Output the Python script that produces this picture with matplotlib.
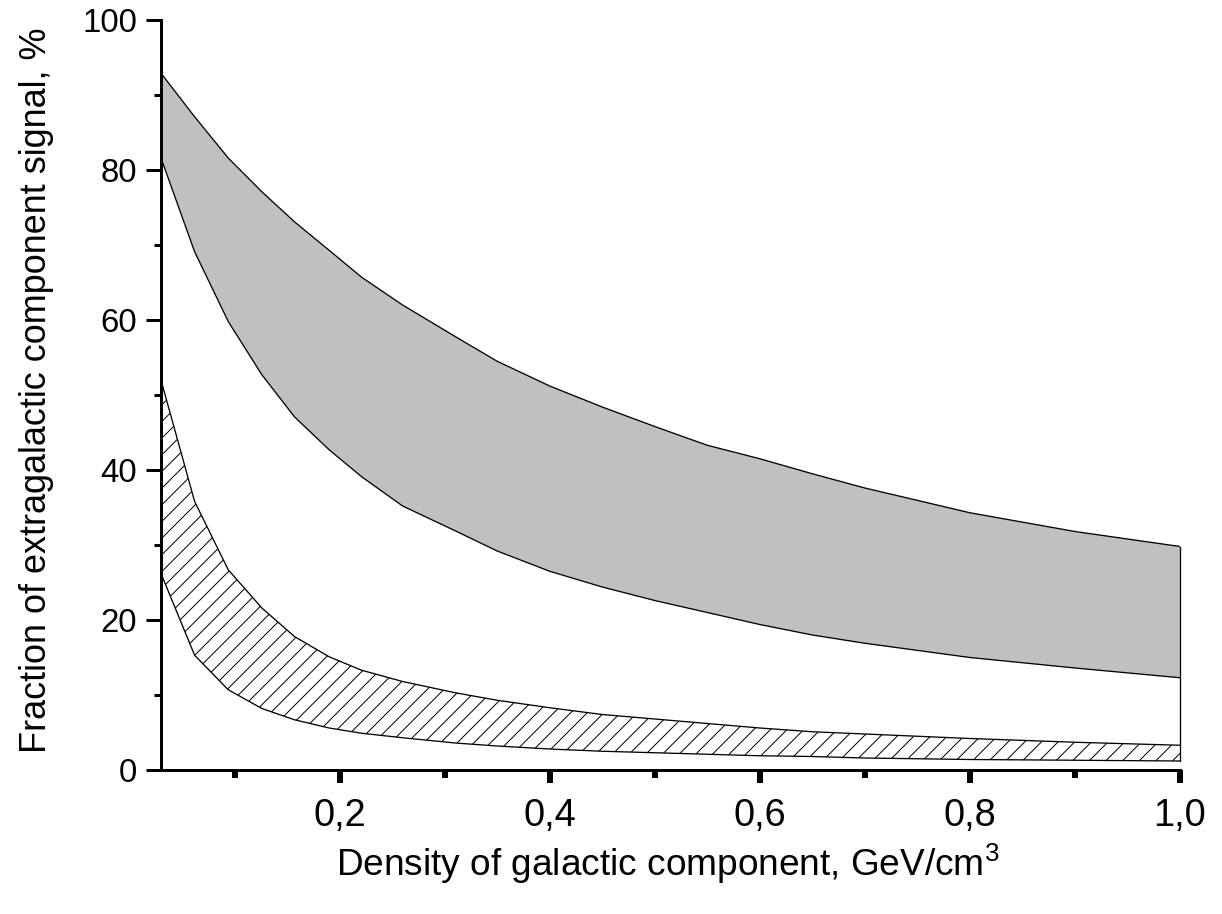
#!/usr/bin/env python3
"""
Fraction of extragalactic signal vs density of galactic component
"""

import matplotlib
matplotlib.use('Agg')
import matplotlib.pyplot as plt
from matplotlib.ticker import MultipleLocator, FuncFormatter

# Data
density = [0.03, 0.062, 0.094, 0.126, 0.157, 0.19, 0.221, 0.26, 0.31, 0.35,
           0.40, 0.45, 0.50, 0.55, 0.60, 0.65, 0.70, 0.80, 0.90, 1.0]
gray_upper = [92.9, 87.1, 81.6, 77.1, 73.1, 69.3, 65.7, 62.0, 57.8, 54.5,
              51.2, 48.4, 45.8, 43.3, 41.5, 39.5, 37.6, 34.3, 31.8, 29.8]
gray_lower = [81.6, 69.1, 59.8, 52.7, 47.1, 42.7, 39.1, 35.2, 31.9, 29.2,
              26.5, 24.4, 22.6, 21.0, 19.4, 18.0, 16.9, 15.0, 13.6, 12.3]
hatch_upper = [52.0, 35.8, 26.7, 21.6, 17.8, 15.1, 13.3, 11.8, 10.3, 9.3,
               8.3, 7.4, 6.8, 6.2, 5.6, 5.1, 4.8, 4.2, 3.7, 3.3]
hatch_lower = [26.2, 15.3, 10.7, 8.2, 6.7, 5.6, 4.9, 4.3, 3.6, 3.2,
               2.8, 2.5, 2.3, 2.1, 1.9, 1.8, 1.6, 1.4, 1.3, 1.2]

DPI = 150
PX = 72.0 / DPI  # points per pixel

plt.rcParams['font.family'] = ['Liberation Sans', 'DejaVu Sans']
plt.rcParams['mathtext.default'] = 'regular'
plt.rcParams['hatch.linewidth'] = 1.0 * PX


def main():
    fig = plt.figure(figsize=(1222 / DPI, 914 / DPI), dpi=DPI)
    ax = fig.add_axes([161 / 1222, 1 - 770 / 914, (1180 - 161) / 1222, (770 - 20) / 914])

    ax.fill_between(density, gray_lower, gray_upper, facecolor='#c0c0c0',
                    edgecolor='none', zorder=1)
    ax.fill_between(density, hatch_lower, hatch_upper, facecolor='white',
                    edgecolor='black', hatch='///', linewidth=0, zorder=1)
    for curve in (gray_upper, gray_lower, hatch_upper, hatch_lower):
        ax.plot(density, curve, color='black', lw=1.3 * PX, zorder=2)
    ax.plot([density[-1], density[-1]], [hatch_lower[-1], gray_upper[-1]],
            color='black', lw=1.3 * PX, zorder=2, clip_on=False)

    ax.set_xlim(density[0], 1.0)
    ax.set_ylim(0, 100)

    for side in ('top', 'right'):
        ax.spines[side].set_visible(False)
    for side in ('left', 'bottom'):
        ax.spines[side].set_linewidth(3 * PX)
        ax.spines[side].set_zorder(3)

    ax.xaxis.set_major_locator(MultipleLocator(0.2))
    ax.xaxis.set_minor_locator(MultipleLocator(0.1))
    ax.yaxis.set_major_locator(MultipleLocator(20))
    ax.yaxis.set_minor_locator(MultipleLocator(10))
    ax.xaxis.set_major_formatter(FuncFormatter(lambda v, p: f'{v:.1f}'.replace('.', ',')))
    ax.yaxis.set_major_formatter(FuncFormatter(lambda v, p: f'{v:.0f}'))

    ax.tick_params(axis='x', which='major', direction='out', length=13 * PX,
                   width=6 * PX, pad=15 * PX, labelsize=38 * PX)
    ax.tick_params(axis='x', which='minor', direction='out', length=8 * PX,
                   width=6 * PX)
    ax.tick_params(axis='y', which='major', direction='out', length=15 * PX,
                   width=3 * PX, pad=9 * PX, labelsize=33 * PX)
    ax.tick_params(axis='y', which='minor', direction='out', length=7 * PX,
                   width=3 * PX)

    fig.text(668 / 1222, 1 - 864 / 914,
             'Density of galactic component, GeV/cm$^3$',
             ha='center', va='center', fontsize=37 * PX)
    fig.text(37 / 1222, 1 - 390 / 914,
             'Fraction of extragalactic component signal, %',
             ha='center', va='center', rotation=90, fontsize=36 * PX)

    fig.savefig('out.png', dpi=DPI)
    plt.close(fig)


if __name__ == '__main__':
    main()
